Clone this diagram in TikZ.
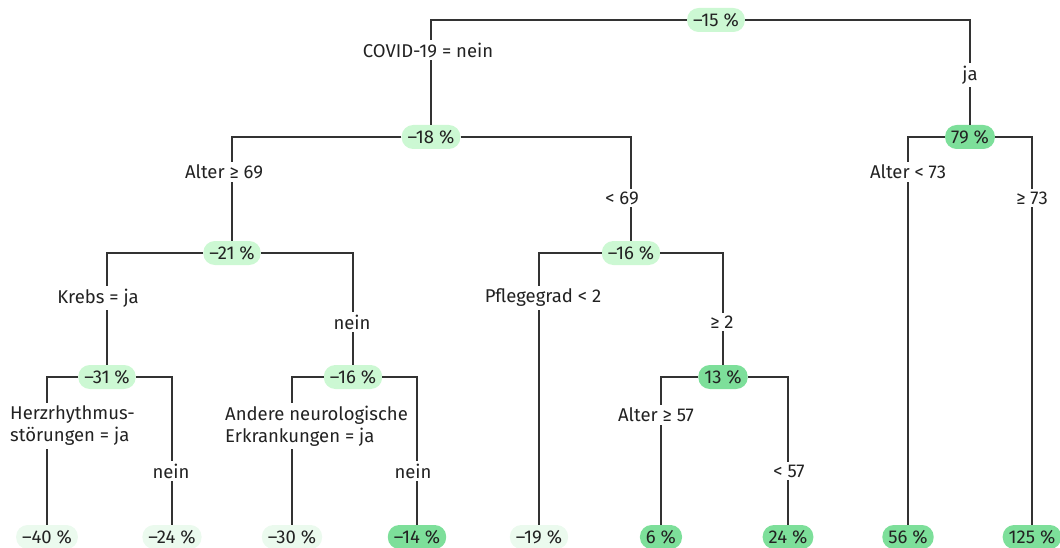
\documentclass[tikz,border=0pt]{standalone}
\usepackage{fontspec}
\setmainfont{Fira Sans}
\definecolor{gstrong}{HTML}{7DDF9A}
\definecolor{gmid}{HTML}{CCF8D3}
\definecolor{gpale}{HTML}{EBFAEE}
\definecolor{ink}{HTML}{222222}
\definecolor{edge}{HTML}{333333}
\tikzset{
  pill/.style={rounded corners=11.5pt, minimum height=24pt, inner xsep=6pt, inner ysep=0pt, text=ink, font=\fontsize{18.5}{22}\selectfont},
  strong/.style={pill, fill=gstrong},
  mid/.style={pill, fill=gmid},
  pale/.style={pill, fill=gpale},
  lab/.style={fill=white, text=ink, inner xsep=2pt, inner ysep=3pt, font=\fontsize{18.5}{22}\selectfont},
  labl/.style={lab, align=left, font=\fontsize{18.5}{22}\selectfont},
  conn/.style={draw=edge, line width=1.2pt}
}
\begin{document}
\begin{tikzpicture}[x=1pt,y=-1pt]
\useasboundingbox (0,0) rectangle (1060,548);
% nodes
\node[mid] (a) at (716,20) {–15 \%};
\node[mid] (b) at (431,137) {–18 \%};
\node[strong] (c) at (970,137) {79 \%};
\node[mid] (d) at (232,253) {–21 \%};
\node[mid] (e) at (631,253) {–16 \%};
\node[mid] (f) at (107,377) {–31 \%};
\node[mid] (g) at (353,377) {–16 \%};
\node[strong] (h) at (723,377) {13 \%};
\node[pale] (l1) at (47,537) {–40 \%};
\node[pale] (l2) at (172,537) {–24 \%};
\node[pale] (l3) at (292,537) {–30 \%};
\node[strong] (l4) at (417,537) {–14 \%};
\node[pale] (l5) at (539,537) {–19 \%};
\node[strong] (l6) at (661,537) {6 \%};
\node[strong] (l7) at (788,537) {24 \%};
\node[strong] (l8) at (908,537) {56 \%};
\node[strong] (l9) at (1032,537) {125 \%};
% connectors
\draw[conn] (a) -| (b);
\draw[conn] (a) -| (c);
\draw[conn] (b) -| (d);
\draw[conn] (b) -| (e);
\draw[conn] (c) -| (l8);
\draw[conn] (c) -| (l9);
\draw[conn] (d) -| (f);
\draw[conn] (d) -| (g);
\draw[conn] (e) -| (l5);
\draw[conn] (e) -| (h);
\draw[conn] (f) -| (l1);
\draw[conn] (f) -| (l2);
\draw[conn] (g) -| (l3);
\draw[conn] (g) -| (l4);
\draw[conn] (h) -| (l6);
\draw[conn] (h) -| (l7);
% labels
\node[lab] (t1) at (428,50) {COVID-19 = nein};
\node[lab] (t2) at (970,75) {ja};
\node[lab] (t3) at (224,172) {Alter ≥ 69};
\node[lab] (t4) at (622,198) {< 69};
\node[lab] (t5) at (908,172) {Alter < 73};
\node[lab] (t6) at (1032,198) {≥ 73};
\node[lab] (t7) at (98,298) {Krebs = ja};
\node[lab] (t8) at (352,322) {nein};
\node[lab] (t9) at (543,298) {Pflegegrad < 2};
\node[lab] (t10) at (722,322) {≥ 2};
\node[labl, anchor=west] (t11) at (8,426) {Herzrhythmus-\\störungen = ja};
\node[lab] (t12) at (171,471) {nein};
\node[labl, anchor=west] (t13) at (223,426) {Andere neurologische\\Erkrankungen = ja};
\node[lab] (t14) at (413,471) {nein};
\node[lab] (t15) at (656,415) {Alter ≥ 57};
\node[lab] (t16) at (789,471) {< 57};
\end{tikzpicture}
\end{document}
